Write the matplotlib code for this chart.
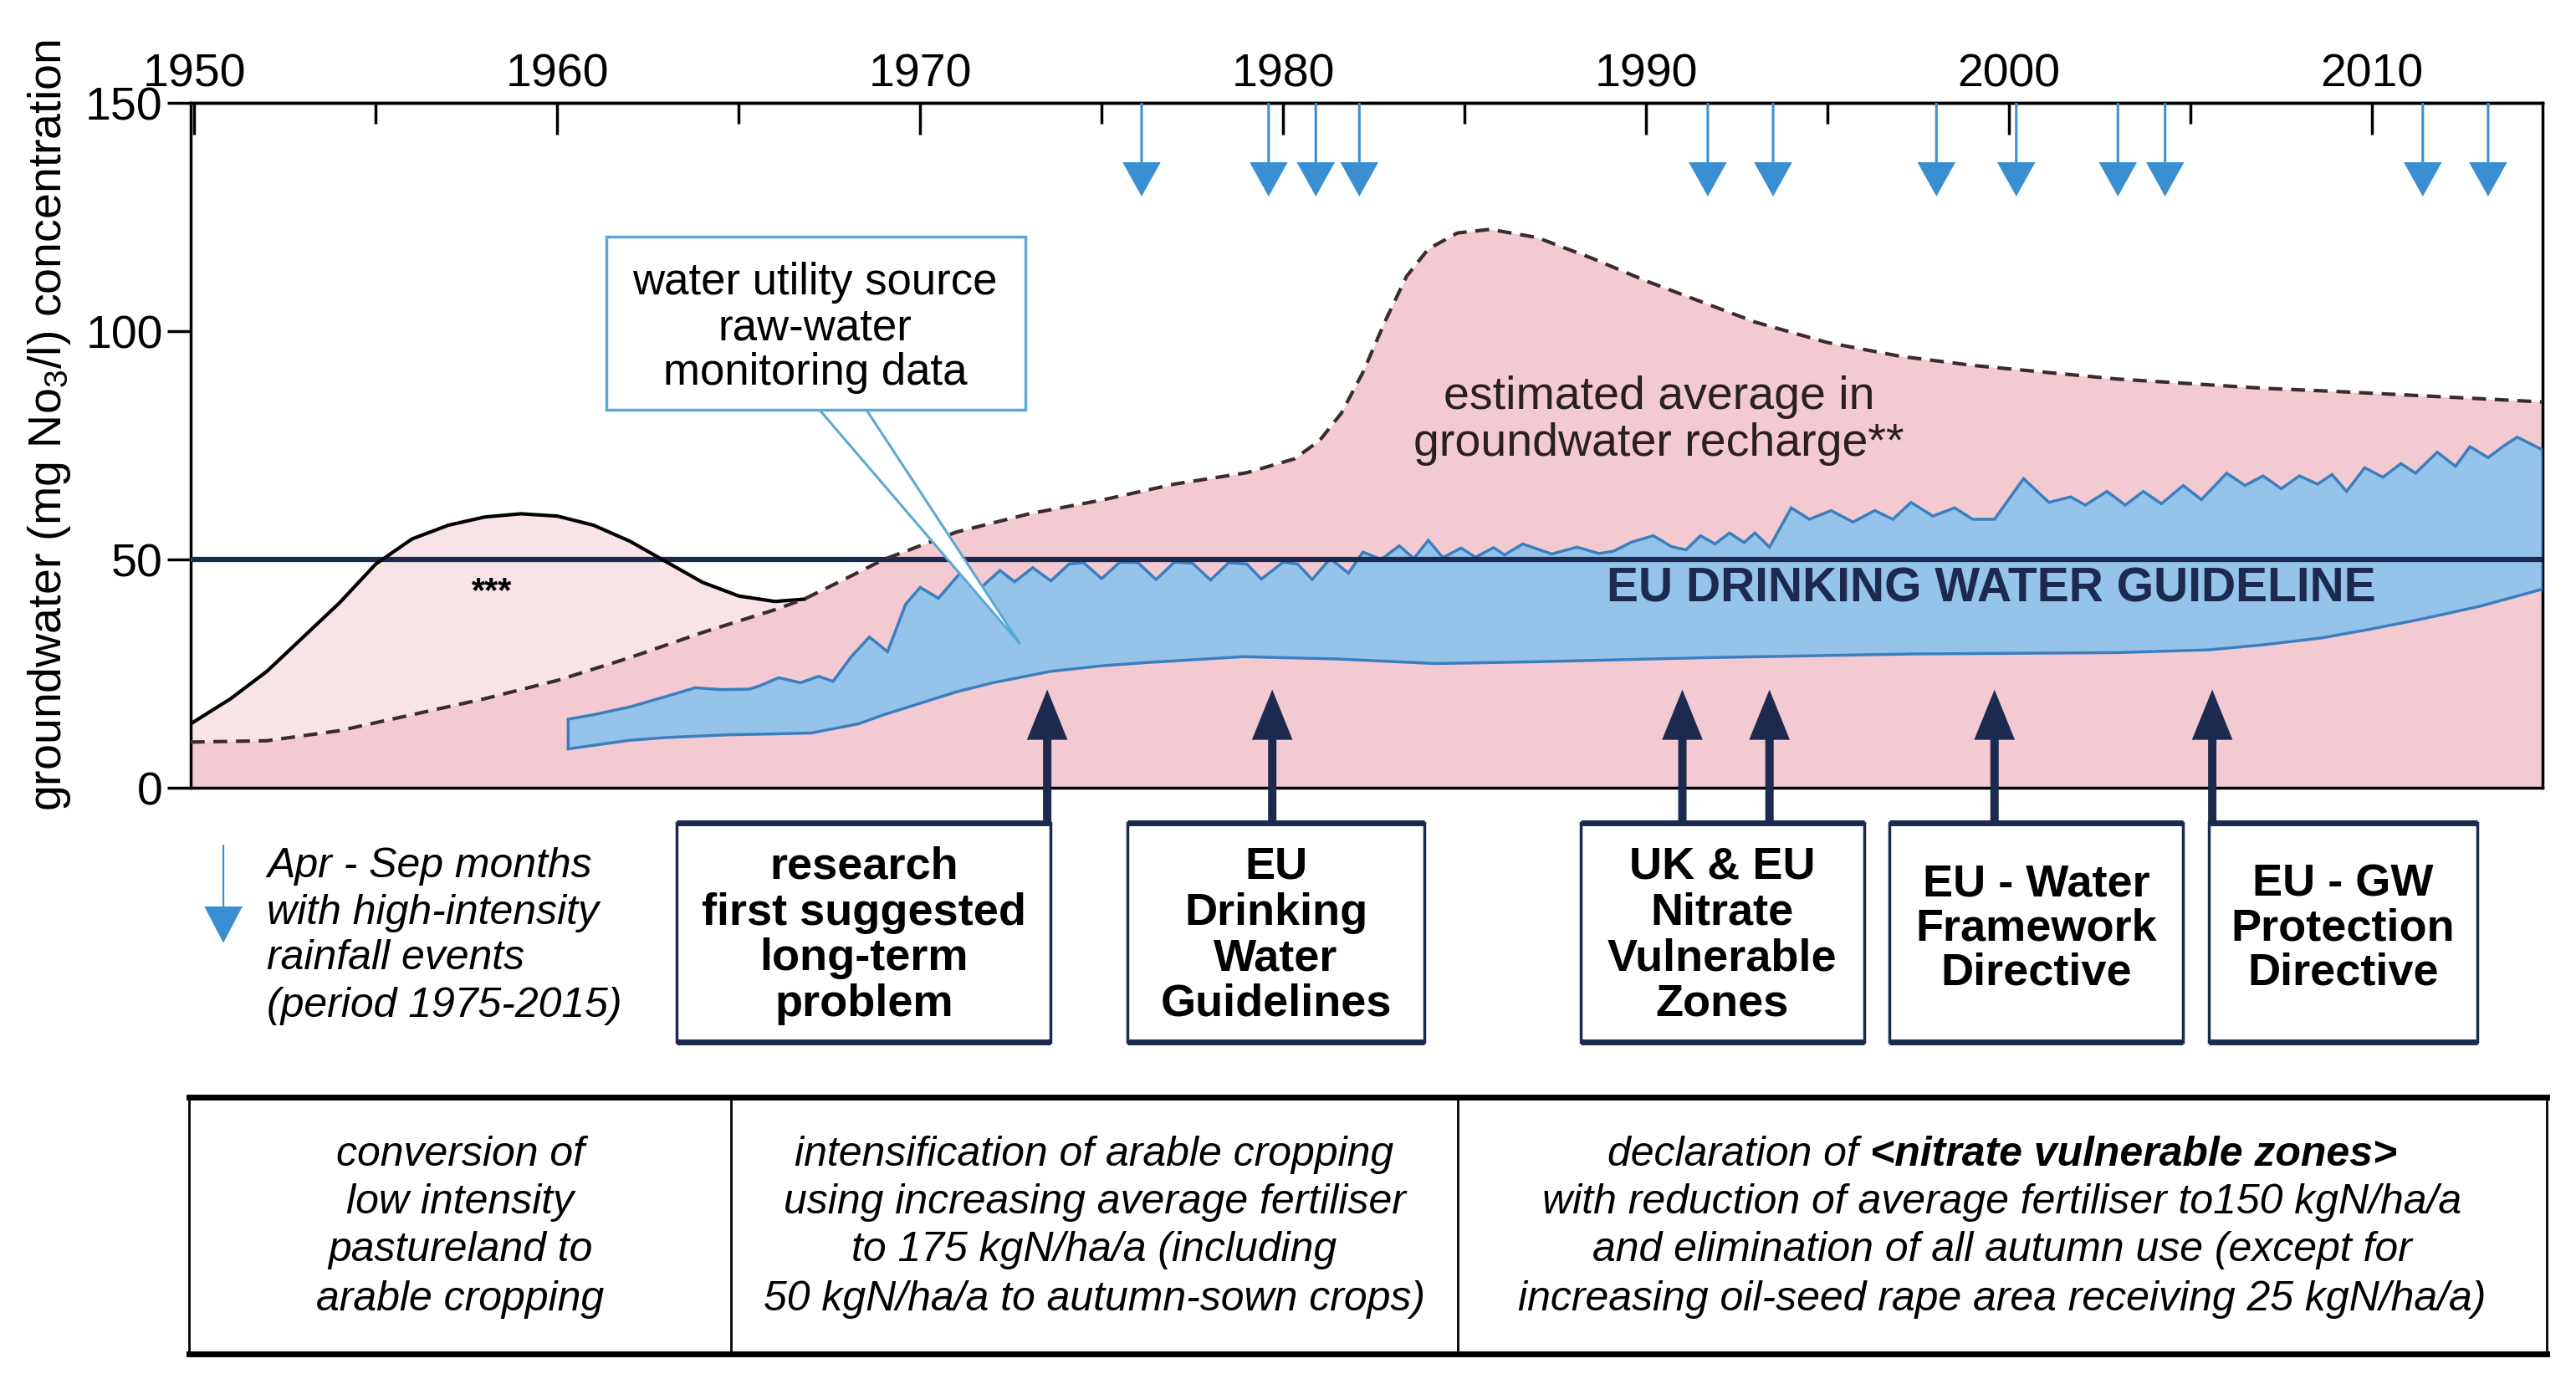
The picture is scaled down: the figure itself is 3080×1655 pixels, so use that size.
import numpy as np
import matplotlib
matplotlib.use('Agg')
import matplotlib.pyplot as plt
from matplotlib.patches import Rectangle, Polygon
from matplotlib.lines import Line2D
from matplotlib.ticker import FixedLocator

plt.rcParams['font.family'] = ['Liberation Sans', 'DejaVu Sans']
plt.rcParams['mathtext.fontset'] = 'custom'
plt.rcParams['mathtext.rm'] = 'Liberation Sans'
plt.rcParams['mathtext.it'] = 'Liberation Sans:italic'
plt.rcParams['mathtext.bf'] = 'Liberation Sans:bold'

##Data
# estimated average nitrate in groundwater recharge (dashed line)
est_years = [1949.9, 1952, 1954, 1956, 1958, 1960, 1962, 1964, 1966, 1966.8, 1968, 1969,
             1970, 1971, 1973, 1975, 1977, 1979, 1980.3, 1981, 1981.6, 1982.2, 1982.8,
             1983.4, 1984, 1984.8, 1985.7, 1987, 1988.5, 1990, 1991.5, 1993, 1995, 1997,
             1999, 2001, 2003, 2005, 2007, 2009, 2011, 2013, 2014.7]
est_conc = [10.0, 10.3, 12.5, 16.0, 19.5, 23.5, 28.5, 34.0, 39.0, 41.3, 46.0, 50.0,
            53.0, 56.0, 60.0, 63.0, 66.5, 69.0, 72.0, 76.0, 82.0, 91.0, 102.0,
            112.0, 118.0, 121.5, 122.3, 120.5, 116.0, 111.0, 106.5, 102.0, 97.5, 94.5,
            92.5, 91.0, 89.5, 88.5, 87.5, 86.8, 86.0, 85.2, 84.5]

# early pasture conversion pulse (***)
early_years = [1949.9, 1951, 1952, 1953, 1954, 1955, 1956, 1957, 1958, 1959, 1960,
               1961, 1962, 1963, 1964, 1965, 1966, 1966.8]
early_conc = [14.0, 19.5, 25.5, 33.0, 40.5, 49.0, 54.5, 57.5, 59.3, 60.0, 59.5,
              57.5, 54.0, 49.5, 45.0, 42.0, 40.8, 41.3]

# water utility raw-water monitoring band, upper edge
hi_years = [1960.3, 1961, 1962, 1963, 1963.8, 1964.5, 1965.3, 1965.6, 1966.1, 1966.7,
            1967.2, 1967.6, 1968.1, 1968.6, 1969.1, 1969.6, 1970.0, 1970.5, 1971.1,
            1971.6, 1972.2, 1972.6, 1973.1, 1973.6, 1974.1, 1974.5, 1975.0, 1975.5,
            1976.0, 1976.5, 1977.0, 1977.5, 1978.0, 1978.5, 1979.0, 1979.4, 1980.0,
            1980.4, 1980.8, 1981.3, 1981.8, 1982.2, 1982.7, 1983.2, 1983.6, 1984.0,
            1984.4, 1984.9, 1985.3, 1985.8, 1986.1, 1986.6, 1987.4, 1988.1, 1988.7,
            1989.1, 1989.6, 1990.2, 1990.7, 1991.1, 1991.5, 1991.9, 1992.3, 1992.7,
            1993.0, 1993.4, 1994.0, 1994.5, 1995.1, 1995.7, 1996.3, 1996.8, 1997.3,
            1997.9, 1998.5, 1999.0, 1999.6, 2000.4, 2001.1, 2001.7, 2002.1, 2002.7,
            2003.2, 2003.7, 2004.2, 2004.8, 2005.3, 2006.0, 2006.5, 2007.0, 2007.5,
            2008.0, 2008.5, 2008.9, 2009.3, 2009.8, 2010.3, 2010.8, 2011.2, 2011.8,
            2012.3, 2012.7, 2013.2, 2013.6, 2014.0, 2014.7]
hi_conc = [15.0, 16.0, 17.7, 20.0, 21.9, 21.5, 21.6, 22.4, 24.1, 23.0,
           24.4, 23.3, 28.7, 33.0, 29.8, 40.2, 43.9, 41.5, 47.0,
           43.3, 47.6, 45.1, 48.2, 45.3, 49.0, 49.3, 45.8, 49.4,
           49.3, 45.6, 49.4, 49.2, 45.5, 49.3, 49.0, 45.7, 49.4,
           49.0, 45.6, 50.2, 47.0, 51.6, 50.0, 53.0, 50.2, 54.2,
           50.4, 52.5, 50.5, 52.6, 51.0, 53.4, 51.2, 52.7, 51.3,
           51.8, 53.8, 55.2, 52.8, 52.1, 55.2, 53.4, 55.8, 53.7,
           55.8, 52.7, 61.3, 58.8, 60.7, 58.2, 60.7, 58.8, 62.5,
           59.5, 61.3, 58.8, 58.8, 67.7, 62.5, 63.7, 61.9, 64.9,
           61.9, 64.9, 62.2, 66.2, 63.1, 68.9, 66.2, 68.3, 65.5,
           68.3, 66.5, 68.6, 64.9, 70.1, 68.0, 71.0, 68.9, 73.5,
           70.4, 74.7, 72.3, 74.7, 76.8, 74.0]

# monitoring band, lower edge
lo_years = [1960.3, 1961, 1962, 1963, 1964.7, 1966, 1967, 1968.3, 1969, 1970, 1971,
            1972, 1973.6, 1975, 1976.2, 1978.9, 1981.5, 1984.2, 1987, 1991.7, 1997.3,
            2003, 2005.5, 2007, 2008.6, 2010, 2011.4, 2013, 2014.7]
lo_conc = [8.5, 9.3, 10.4, 11.0, 11.6, 11.8, 12.0, 14.0, 16.0, 18.5, 21.0,
           23.0, 25.5, 26.7, 27.4, 28.7, 28.2, 27.2, 27.6, 28.5, 29.3,
           29.6, 30.2, 31.3, 32.8, 34.8, 37.0, 39.8, 43.5]

guideline = 50

# Apr-Sep months with high-intensity rainfall events
rain_years = [1976.1, 1979.6, 1980.9, 1982.1, 1991.7, 1993.5, 1998.0, 2000.2,
              2003.0, 2004.3, 2011.4, 2013.2]

# policy milestones (arrow year, box span, label)
policy_years = [1973.5, 1979.7, 1991.0, 1993.4, 1999.6, 2005.6]
box_spans = [(1963.3, 1973.6), (1975.7, 1983.9), (1988.2, 1996.0),
             (1996.7, 2004.8), (2005.5, 2012.9)]
box_labels = [['research', 'first suggested', 'long-term', 'problem'],
              ['EU', 'Drinking', 'Water', 'Guidelines'],
              ['UK & EU', 'Nitrate', 'Vulnerable', 'Zones'],
              ['EU - Water', 'Framework', 'Directive'],
              ['EU - GW', 'Protection', 'Directive']]

table_cols = [['conversion of', 'low intensity', 'pastureland to', 'arable cropping'],
              ['intensification of arable cropping', 'using increasing average fertiliser',
               'to 175 kgN/ha/a (including', '50 kgN/ha/a to autumn-sown crops)'],
              [None, 'with reduction of average fertiliser to150 kgN/ha/a',
               'and elimination of all autumn use (except for',
               'increasing oil-seed rape area receiving 25 kgN/ha/a)']]

##Styles
pink = '#f3c9d2'
light_pink = '#f8e3e7'
band_blue = '#95c3ea'
band_edge = '#3a7fc0'
navy = '#1b2a4e'
rain_blue = '#3a8fd2'
call_blue = '#5aa9d6'
FS = 40

fig = plt.figure(figsize=(30.8, 16.56), dpi=100)
ax = fig.add_axes([228/3080, 1-943/1656, (3040-228)/3080, (943-124)/1656])
ax.set_xlim(1949.9, 2014.7)
ax.set_ylim(0, 150)

#Areas and lines
ax.fill_between(early_years, 0, early_conc, color=light_pink, lw=0, zorder=1)
ax.fill_between(est_years, 0, est_conc, color=pink, lw=0, zorder=2)
ax.plot(early_years, early_conc, color='black', lw=3, zorder=5)
ax.plot(est_years, est_conc, color='#3b2b2e', lw=3, ls=(0, (4, 2.5)), zorder=5)

band_x = np.concatenate([hi_years, lo_years[::-1]])
band_y = np.concatenate([hi_conc, lo_conc[::-1]])
ax.fill(band_x, band_y, facecolor=band_blue, edgecolor=band_edge, lw=2.5, zorder=3)
ax.axhline(guideline, color=navy, lw=4.5, zorder=4)

ax.text(1999.5, 43.6, 'EU DRINKING WATER GUIDELINE', ha='center', va='center',
        fontsize=41, fontweight='bold', color=navy, zorder=6)
for i, s in enumerate(['estimated average in', 'groundwater recharge**']):
    ax.text(1990.35, 85.8 - i*10.4, s, ha='center', va='center', fontsize=40,
            color='#2a1f22', zorder=6)
ax.text(1958.2, 43, '***', ha='center', va='center', fontsize=30, fontweight='bold', zorder=6)

#Callout box
ax.add_patch(Polygon([(1967.2, 83.0), (1972.75, 31.5), (1968.5, 83.0)], closed=True,
                     facecolor='white', edgecolor=call_blue, lw=2.2, zorder=6))
ax.add_patch(Rectangle((1961.36, 82.7), 11.54, 38.0, facecolor='white',
                       edgecolor=call_blue, lw=2.5, zorder=7))
for i, s in enumerate(['water utility source', 'raw-water', 'monitoring data']):
    ax.text(1967.1, 110.8 - i*9.9, s, ha='center', va='center', fontsize=38, zorder=8)

#Rainfall arrows
for yr in rain_years:
    ax.arrow(yr, 150, 0, -20.5, width=0.07, head_width=1.05, head_length=7.5,
             length_includes_head=True, color=rain_blue, lw=0, zorder=6)

#Policy boxes and arrows
box_top, box_bot = -7.7, -55.6
for yr in policy_years:
    ax.arrow(yr, box_top, 0, 21.5 - box_top, width=0.23, head_width=1.12, head_length=11,
             length_includes_head=True, color=navy, lw=0, zorder=6, clip_on=False)
for (x0, x1), lines in zip(box_spans, box_labels):
    ax.add_patch(Rectangle((x0, box_bot), x1 - x0, box_top - box_bot, facecolor='white',
                           edgecolor=navy, lw=2.5, zorder=7, clip_on=False))
    ax.hlines([box_top, box_bot], x0, x1, color=navy, lw=5, zorder=8, clip_on=False)
    if len(lines) == 4:
        y0, dy = -17.2, 10.0
    else:
        y0, dy = -20.9, 9.7
    for i, s in enumerate(lines):
        ax.text((x0 + x1)/2, y0 - i*dy, s, ha='center', va='center', fontsize=39,
                fontweight='bold', zorder=9, clip_on=False)

#Rainfall legend
ax.arrow(1950.8, -12.5, 0, -21.5, width=0.05, head_width=1.05, head_length=8,
         length_includes_head=True, color=rain_blue, lw=0, clip_on=False)
for y, s in zip([-17, -27.2, -37.2, -47.7],
                ['Apr - Sep months', 'with high-intensity', 'rainfall events', '(period 1975-2015)']):
    ax.text(1952.0, y, s, ha='left', va='center', fontsize=36, style='italic', clip_on=False)

#Axes styling
for sp in ax.spines.values():
    sp.set_linewidth(2.5)
ax.set_yticks([0, 50, 100, 150])
ax.tick_params(axis='y', direction='out', length=20, width=2.5, labelsize=FS, pad=4)
ax.set_xticks(np.arange(1955, 2015, 5))
ax.tick_params(axis='x', direction='in', length=16, width=2.5, labelbottom=False, top=False)

top = ax.secondary_xaxis('top')
top.set_xticks(range(1950, 2011, 10))
top.xaxis.set_minor_locator(FixedLocator(range(1955, 2015, 10)))
top.tick_params(which='major', direction='in', length=27, width=2.5, labelsize=FS, pad=6)
top.tick_params(which='minor', direction='in', length=18, width=2.5)
top.spines['top'].set_linewidth(2.5)

fig.text(0.0192, 0.693, r'groundwater (mg No$_3$/l) concentration', rotation=90,
         ha='center', va='center', fontsize=FS)

#Bottom table (figure coords)
tl, tr, tt, tb = 226/3080, 3045/3080, 1 - 1313/1656, 1 - 1620/1656
dividers = [874/3080, 1743/3080]
fig.add_artist(Rectangle((tl, tb), tr - tl, tt - tb, transform=fig.transFigure,
                         facecolor='none', edgecolor='black', lw=2))
fig.add_artist(Line2D([tl, tr], [tt, tt], transform=fig.transFigure, color='black', lw=5))
fig.add_artist(Line2D([tl, tr], [tb, tb], transform=fig.transFigure, color='black', lw=5))
for d in dividers:
    fig.add_artist(Line2D([d, d], [tb, tt], transform=fig.transFigure, color='black', lw=2))

edges = [tl] + dividers + [tr]
row_y = [0.166, 0.1317, 0.0972, 0.0616]
for c, lines in enumerate(table_cols):
    cx = (edges[c] + edges[c+1])/2
    for y, s in zip(row_y, lines):
        if s is None:
            continue
        fig.text(cx, y, s, ha='center', va='center', fontsize=36, style='italic')

# first line of column 3 mixes italic and bold italic
cx3 = (edges[2] + edges[3])/2
t1 = fig.text(0, row_y[0], 'declaration of', ha='left', va='center', fontsize=36, style='italic')
t2 = fig.text(0, row_y[0], '<nitrate vulnerable zones>', ha='left', va='center', fontsize=36,
              style='italic', fontweight='bold')
fig.canvas.draw()
r = fig.canvas.get_renderer()
W = fig.bbox.width
w1 = t1.get_window_extent(r).width / W
w2 = t2.get_window_extent(r).width / W
gap = 36*100/72*0.28 / W
x0 = cx3 - (w1 + gap + w2)/2
t1.set_x(x0)
t2.set_x(x0 + w1 + gap)

fig.savefig('out.png', dpi=100)
